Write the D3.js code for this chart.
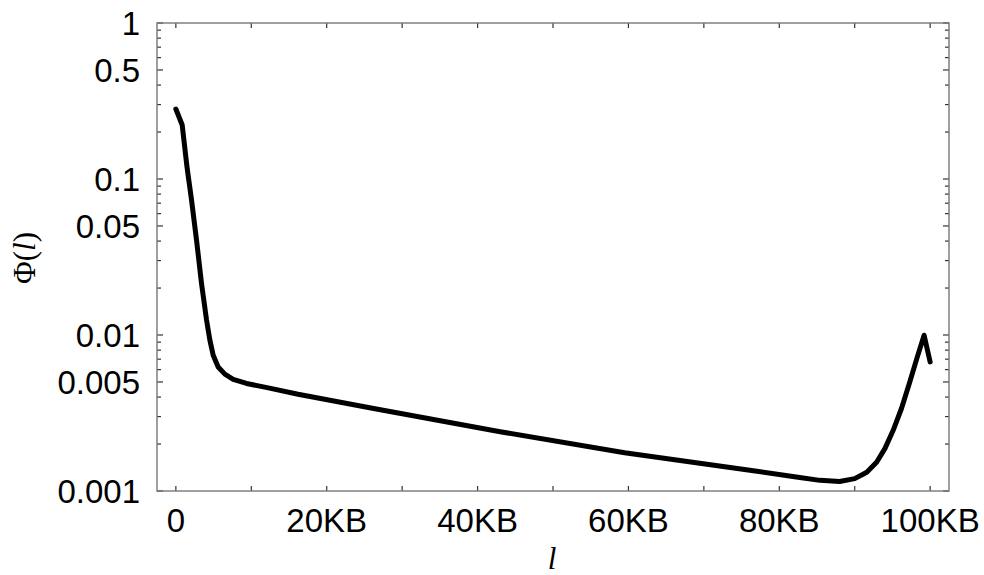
<!DOCTYPE html>
<html lang="en">
<head>
  <meta charset="UTF-8" />
  <title>Phi(l) vs l</title>
  <script src="https://cdn.jsdelivr.net/npm/d3@7"></script>
  <style>
    html, body { margin: 0; padding: 0; background: #fff; }
    svg { display: block; }
    .tick-label { font-family: "Liberation Sans", Arial, sans-serif; font-size: 33px; fill: #000; }
    .axis-title { font-family: "Liberation Serif", "Times New Roman", serif; font-size: 31px; fill: #000; }
  </style>
</head>
<body>
<script>
  // ----------------------------
  // Data (l in KB, Phi on log scale)
  // ----------------------------
  const lKB = [0, 0.84, 1.42, 2.08, 2.74, 3.4, 3.71, 4.07, 4.51, 4.95, 5.61, 6.5, 7.6, 9.37, 12.1, 16.2,
               26.4, 43.0, 59.5, 76.1, 82.7, 85.4, 88.0, 90.0, 91.6, 92.9,
               94.0, 95.1, 96.2, 97.3, 98.3, 99.2, 100];
  const phi = [0.281, 0.222, 0.126, 0.0732, 0.0406, 0.0214, 0.0167, 0.01245, 0.00927, 0.00742, 0.00624, 0.00561, 0.00520, 0.00489, 0.00460, 0.00417,
               0.00337, 0.00240, 0.00176, 0.00136, 0.00122, 0.00117, 0.00115, 0.00120, 0.00132, 0.00153,
               0.00187, 0.00245, 0.00338, 0.00500, 0.00724, 0.00997, 0.00672];

  const xTicks = [0, 10, 20, 30, 40, 50, 60, 70, 80, 90, 100];
  const xLabels = [0, 20, 40, 60, 80, 100];
  const yLabels = [1, 0.5, 0.1, 0.05, 0.01, 0.005, 0.001];

  // ----------------------------
  // Layout
  // ----------------------------
  const width = 984, height = 575;
  const plotL = 157, plotR = 949, plotT = 23, plotB = 491;

  const svg = d3.select("body").append("svg")
    .attr("width", width)
    .attr("height", height);

  const x = d3.scaleLinear().domain([-2.5, 102.5]).range([plotL, plotR]);
  const y = d3.scaleLog().domain([0.001, 1]).range([plotB, plotT]);

  // minor + major log ticks (1..9 per decade)
  const yTicks = [];
  for (let e = -3; e < 0; e++) {
    for (let m = 1; m <= 9; m++) yTicks.push(m * Math.pow(10, e));
  }
  yTicks.push(1);
  const isMajor = v => yLabels.some(l => Math.abs(l - v) / l < 1e-6);

  const tickColor = "#333";

  // x ticks bottom and top, inward
  svg.append("g").selectAll("line").data(xTicks).join("line")
    .attr("x1", d => x(d)).attr("x2", d => x(d))
    .attr("y1", plotB).attr("y2", plotB - 5)
    .attr("stroke", tickColor).attr("stroke-width", 1.2);
  svg.append("g").selectAll("line").data(xTicks).join("line")
    .attr("x1", d => x(d)).attr("x2", d => x(d))
    .attr("y1", plotT).attr("y2", plotT + 5)
    .attr("stroke", tickColor).attr("stroke-width", 1.2);

  // y ticks left and right, inward
  svg.append("g").selectAll("line").data(yTicks).join("line")
    .attr("x1", plotL).attr("x2", d => plotL + (isMajor(d) ? 6 : 4))
    .attr("y1", d => y(d)).attr("y2", d => y(d))
    .attr("stroke", tickColor).attr("stroke-width", 1.2);
  svg.append("g").selectAll("line").data(yTicks).join("line")
    .attr("x1", plotR).attr("x2", d => plotR - (isMajor(d) ? 6 : 4))
    .attr("y1", d => y(d)).attr("y2", d => y(d))
    .attr("stroke", tickColor).attr("stroke-width", 1.2);

  // frame
  svg.append("rect")
    .attr("x", plotL).attr("y", plotT)
    .attr("width", plotR - plotL).attr("height", plotB - plotT)
    .attr("fill", "none")
    .attr("stroke", "#777")
    .attr("stroke-width", 1.4);

  // tick labels
  svg.append("g").selectAll("text").data(xLabels).join("text")
    .attr("class", "tick-label")
    .attr("x", d => x(d))
    .attr("y", 532)
    .attr("text-anchor", "middle")
    .text(d => d === 0 ? "0" : d + "KB");

  svg.append("g").selectAll("text").data(yLabels).join("text")
    .attr("class", "tick-label")
    .attr("x", 140)
    .attr("y", d => y(d))
    .attr("dy", "0.36em")
    .attr("text-anchor", "end")
    .text(d => String(d));

  // axis titles
  svg.append("text")
    .attr("class", "axis-title")
    .attr("x", 552)
    .attr("y", 569)
    .attr("text-anchor", "middle")
    .attr("font-style", "italic")
    .text("l");

  const yt = svg.append("text")
    .attr("class", "axis-title")
    .attr("transform", "translate(35,258) rotate(-90)")
    .attr("text-anchor", "middle");
  yt.append("tspan").text("Φ(");
  yt.append("tspan").attr("font-style", "italic").text("l");
  yt.append("tspan").text(")");

  // the curve: straight first step, smooth body, straight drop after the peak
  const pts = lKB.map((v, i) => [x(v), y(phi[i])]);
  const peak = phi.indexOf(d3.max(phi.slice(5)));
  const pieces = [
    { p: pts.slice(0, 2), curve: d3.curveLinear },
    { p: pts.slice(1, peak + 1), curve: d3.curveMonotoneX },
    { p: pts.slice(peak), curve: d3.curveLinear }
  ];
  let dStr = "";
  pieces.forEach((pc, k) => {
    let s = d3.line().curve(pc.curve)(pc.p);
    if (k > 0) s = "L" + s.slice(1);   // continue the same path
    dStr += s;
  });

  svg.append("path")
    .attr("d", dStr)
    .attr("fill", "none")
    .attr("stroke", "#000")
    .attr("stroke-width", 5)
    .attr("stroke-linecap", "round")
    .attr("stroke-linejoin", "round");
</script>
</body>
</html>
